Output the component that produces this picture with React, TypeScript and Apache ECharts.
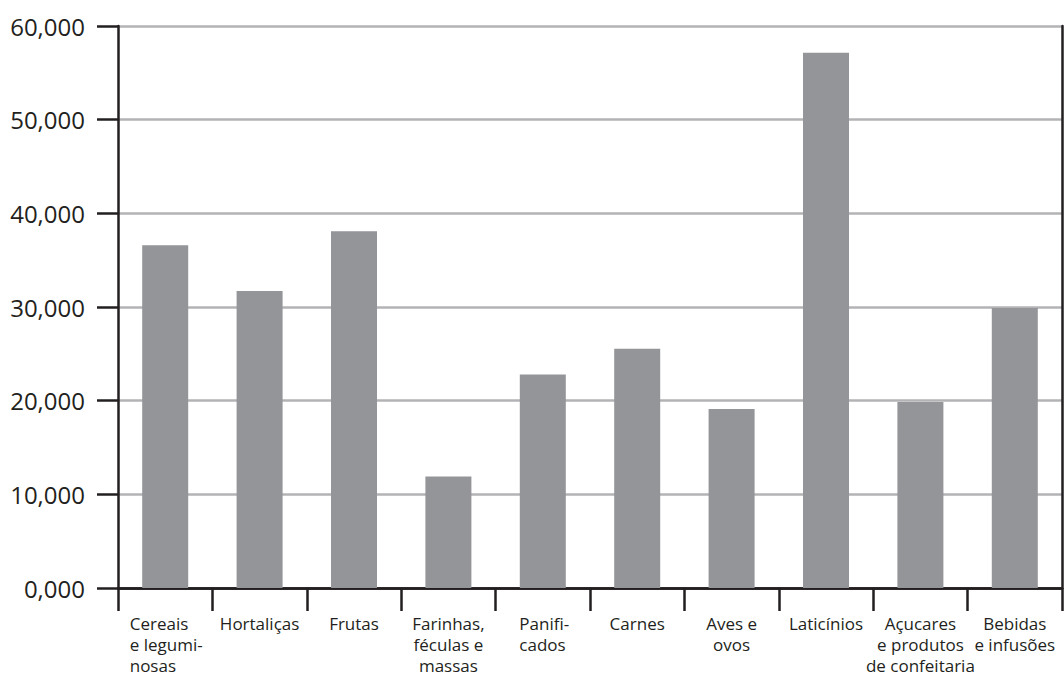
import React, { useEffect, useRef } from "react";
import * as echarts from "echarts";

const categories = [
  "Cereais\ne legumi-\nnosas",
  "Hortaliças",
  "Frutas",
  "Farinhas,\nféculas e\nmassas",
  "Panifi-\ncados",
  "Carnes",
  "Aves e\novos",
  "Laticínios",
  "Açucares\ne produtos\nde confeitaria",
  "Bebidas\ne infusões",
];

const values = [36600, 31700, 38100, 11900, 22800, 25550, 19100, 57150, 19850, 29900];

const yTickLabels = ["0,000", "10,000", "20,000", "30,000", "40,000", "50,000", "60,000"];

// categories whose label lines are left-aligned (rich style key)
const leftAlignedStyle: Record<string, string> = {
  "Cereais\ne legumi-\nnosas": "a",
  "Panifi-\ncados": "b",
};

const DARK = "#231f20";
const BAR = "#939598";
const GRID = "#b3b3b6";
const FONT = "'Open Sans', 'Noto Sans', sans-serif";

export default function App() {
  const ref = useRef<HTMLDivElement>(null);

  useEffect(() => {
    if (!ref.current) return;
    const chart = echarts.init(ref.current, undefined, { renderer: "svg" });
    chart.setOption({
      animation: false,
      backgroundColor: "#ffffff",
      grid: { left: 118, right: 2, top: 26, bottom: 83, containLabel: false },
      xAxis: [
        {
          type: "category",
          data: categories,
          position: "bottom",
          boundaryGap: true,
          axisLine: { show: true, lineStyle: { color: DARK, width: 2.5 } },
          axisTick: {
            show: true,
            alignWithLabel: false,
            inside: false,
            length: 23,
            lineStyle: { color: DARK, width: 2.5 },
          },
          axisLabel: {
            interval: 0,
            margin: 25,
            color: DARK,
            fontFamily: FONT,
            fontSize: 17,
            lineHeight: 21,
            align: "center",
            verticalAlign: "top",
            formatter: (v: string) => {
              const key = leftAlignedStyle[v];
              if (!key) return v;
              return v
                .split("\n")
                .map((line) => `{${key}|${line}}`)
                .join("\n");
            },
            rich: {
              a: { width: 71, align: "left", fontFamily: FONT, fontSize: 17, lineHeight: 21, color: DARK },
              b: { width: 47, align: "left", fontFamily: FONT, fontSize: 17, lineHeight: 21, color: DARK },
            },
          },
          splitLine: { show: false },
        },
        {
          type: "category",
          data: categories,
          position: "top",
          axisLine: { show: true, lineStyle: { color: DARK, width: 2.5 } },
          axisTick: { show: false },
          axisLabel: { show: false },
          splitLine: { show: false },
        },
      ],
      yAxis: [
        {
          type: "value",
          min: 0,
          max: 60000,
          interval: 10000,
          position: "left",
          axisLine: { show: true, lineStyle: { color: DARK, width: 2.5 } },
          axisTick: { show: true, inside: false, length: 21, lineStyle: { color: DARK, width: 2.5 } },
          axisLabel: {
            margin: 33,
            color: DARK,
            fontFamily: FONT,
            fontSize: 24,
            formatter: (v: number) => yTickLabels[Math.round(v / 10000)] ?? "",
          },
          splitLine: { show: true, lineStyle: { color: GRID, width: 2.5 } },
        },
        {
          type: "value",
          min: 0,
          max: 60000,
          interval: 10000,
          position: "right",
          axisLine: { show: true, lineStyle: { color: DARK, width: 2.5 } },
          axisTick: { show: false },
          axisLabel: { show: false },
          splitLine: { show: false },
        },
      ],
      series: [
        {
          type: "bar",
          data: values,
          xAxisIndex: 0,
          yAxisIndex: 0,
          barWidth: 46,
          itemStyle: { color: BAR },
          z: 1,
        },
      ],
    });
    return () => chart.dispose();
  }, []);

  return (
    <div
      ref={ref}
      style={{ position: "fixed", left: 0, top: 0, width: 1064, height: 676, background: "#fff" }}
    />
  );
}
